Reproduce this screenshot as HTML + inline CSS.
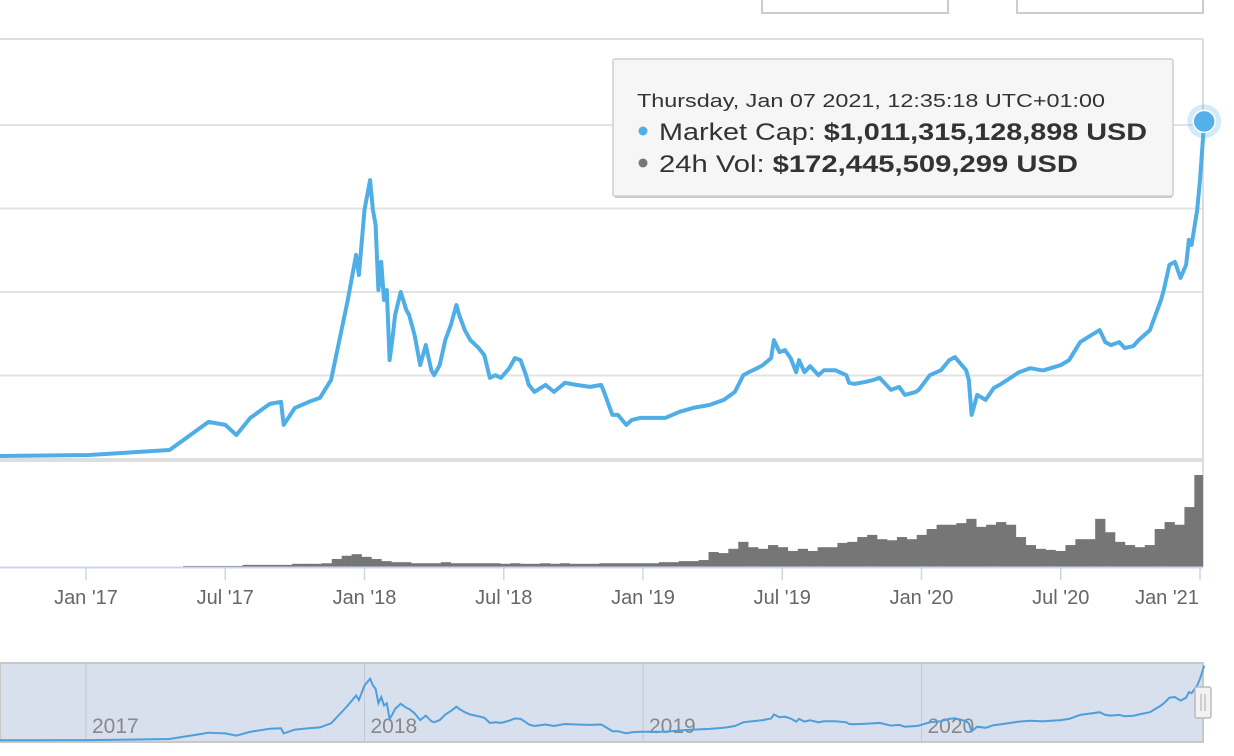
<!DOCTYPE html>
<html><head><meta charset="utf-8"><style>
html,body{margin:0;padding:0;background:#fff;width:1234px;height:756px;overflow:hidden}
svg{display:block;font-family:"Liberation Sans",sans-serif}
</style></head><body>
<svg id="chart" width="1234" height="756" viewBox="0 0 1234 756" xmlns="http://www.w3.org/2000/svg">
<defs><clipPath id="plotClip"><rect x="0" y="0" width="1203" height="756"/></clipPath></defs>
<g id="topbtns">
<rect x="762" y="-6" width="186" height="19" fill="#fff" stroke="#ccc" stroke-width="2"/>
<rect x="1017" y="-6" width="186" height="19" fill="#fff" stroke="#ccc" stroke-width="2"/>
</g>
<g id="grid"></g>
<g id="vol" clip-path="url(#plotClip)"></g>
<g id="xaxis"></g>
<g id="nav"></g>
<path id="mainLine" fill="none" stroke="#4faee6" stroke-width="4" stroke-linejoin="round"/>
<g id="marker"></g>
<g>
<rect x="613" y="59" width="560" height="137" fill="#f6f6f6" stroke="#cfcfcf" stroke-width="1.5" rx="2"/>
<line x1="615" y1="197" x2="1172" y2="197" stroke="#ccc" stroke-width="2"/>
<text x="637" y="107" font-size="18" fill="#333" textLength="468" lengthAdjust="spacingAndGlyphs">Thursday, Jan 07 2021, 12:35:18 UTC+01:00</text>
<circle cx="643" cy="131" r="4.5" fill="#4faee6"/>
<text x="659" y="140" font-size="24" fill="#333" textLength="488" lengthAdjust="spacingAndGlyphs">Market Cap: <tspan font-weight="bold">$1,011,315,128,898 USD</tspan></text>
<circle cx="643" cy="163" r="4.5" fill="#777"/>
<text x="659" y="172" font-size="24" fill="#333" textLength="419" lengthAdjust="spacingAndGlyphs">24h Vol: <tspan font-weight="bold">$172,445,509,299 USD</tspan></text>
</g>
</svg>
<script>
const capDates=[2016.69,2017.01,2017.30,2017.35,2017.41,2017.44,2017.50,2017.54,2017.59,2017.66,2017.70,2017.71,2017.75,2017.80,2017.84,2017.88,2017.91,2017.94,2017.97,2017.98,2018.00,2018.02,2018.03,2018.04,2018.05,2018.06,2018.07,2018.08,2018.09,2018.10,2018.11,2018.13,2018.15,2018.16,2018.18,2018.20,2018.22,2018.24,2018.25,2018.27,2018.29,2018.31,2018.33,2018.34,2018.36,2018.38,2018.41,2018.43,2018.45,2018.47,2018.49,2018.52,2018.54,2018.56,2018.58,2018.59,2018.61,2018.65,2018.68,2018.72,2018.76,2018.81,2018.85,2018.86,2018.89,2018.91,2018.94,2018.96,2018.99,2019.04,2019.08,2019.13,2019.18,2019.24,2019.29,2019.33,2019.36,2019.38,2019.41,2019.43,2019.46,2019.47,2019.49,2019.51,2019.53,2019.55,2019.56,2019.58,2019.60,2019.63,2019.65,2019.69,2019.73,2019.74,2019.76,2019.80,2019.83,2019.85,2019.89,2019.92,2019.94,2019.98,2019.99,2020.03,2020.07,2020.10,2020.12,2020.16,2020.17,2020.18,2020.20,2020.23,2020.26,2020.28,2020.32,2020.35,2020.39,2020.43,2020.44,2020.50,2020.53,2020.57,2020.61,2020.64,2020.66,2020.68,2020.71,2020.73,2020.76,2020.78,2020.82,2020.86,2020.87,2020.89,2020.91,2020.93,2020.95,2020.96,2020.97,2020.99,2021.00,2021.015];
const capValues=[9,12,27,57,93,111,102,72,123,165,171,102,153,171,183,237,356,476,611,551,746,835,746,701,506,590,476,506,296,356,431,500,446,431,371,281,341,266,251,281,356,401,461,431,386,356,332,311,243,251,243,272,302,296,251,222,201,222,201,228,222,216,222,201,132,132,102,117,123,123,123,141,153,162,177,201,251,260,272,281,302,356,320,326,302,260,296,260,278,251,266,266,251,228,225,231,237,243,207,216,192,201,207,251,266,296,305,266,237,132,192,177,213,222,243,260,272,266,266,281,296,350,371,386,350,341,350,332,338,356,386,476,506,581,590,542,581,656,641,746,835,1011];
const volStart=2016.69;
const volStep=0.0356;
const volValues=[0,0,0,0,0,0,0,0,0,0,0,0,0,0,0,0,0,0,0,2,2,2,2,2,2,4,4,4,4,4,6,6,6,7,15,21,24,19,15,11,9,9,7,7,7,9,7,7,7,7,7,6,7,6,6,7,6,7,6,6,6,7,7,7,7,7,7,9,9,11,11,13,28,26,34,47,37,34,41,37,30,34,30,37,37,45,47,56,60,52,50,56,52,60,71,79,79,82,90,75,79,84,79,56,41,34,32,30,41,52,52,90,65,47,41,37,41,71,84,79,112,172];
const xTickDates=[2017,2017.5,2018,2018.5,2019,2019.5,2020,2020.5,2021];
const xTickLabels=["Jan '17","Jul '17","Jan '18","Jul '18","Jan '19","Jul '19","Jan '20","Jul '20","Jan '21"];
const navYears=[2017,2018,2019,2020];
const navLabels=["2017","2018","2019","2020"];
const gridValues=[250,500,750,1000];

const NS="http://www.w3.org/2000/svg";
const X=d=>86+(d-2017)*278.5;
const Y=v=>459-v/250*83.5;
const VY=v=>567-v*0.535;
const NY=v=>741-v*0.0745;
function mk(tag,attrs,parent){const e=document.createElementNS(NS,tag);for(const k in attrs)e.setAttribute(k,attrs[k]);parent.appendChild(e);return e;}

const grid=document.getElementById('grid');
let e=mk('line',{x1:0,y1:39,x2:1203,y2:39,stroke:'#ddd','stroke-width':2},grid);


gridValues.forEach(v=>{const g=mk('line',{x1:0,y1:Y(v),x2:1203,y2:Y(v),stroke:'#e3e3e3','stroke-width':2},grid);

});
e=mk('line',{x1:0,y1:460,x2:1203,y2:460,stroke:'#dedede','stroke-width':4},grid);


e=mk('line',{x1:1203,y1:39,x2:1203,y2:567,stroke:'#ddd','stroke-width':2},grid);



const vol=document.getElementById('vol');
volValues.forEach((v,i)=>{if(v<=0)return;const d=volStart+i*volStep;const x=X(d);
const r=mk('rect',{x:x-5,y:VY(v),width:10.2,height:567-VY(v),fill:'#767676'},vol);

});

const xa=document.getElementById('xaxis');
e=mk('line',{x1:0,y1:567.5,x2:1203,y2:567.5,stroke:'#ccd6eb','stroke-width':2},xa);


xTickDates.forEach((d,i)=>{const x=X(d);
const t=mk('line',{x1:x,y1:567,x2:x,y2:580,stroke:'#ccd6eb','stroke-width':1.5},xa);


const lx=i===xTickDates.length-1?x-33:x;
const l=mk('text',{x:lx,y:604,'font-size':20,fill:'#666','text-anchor':'middle'},xa);
l.textContent=xTickLabels[i];

});

const nav=document.getElementById('nav');
e=mk('rect',{x:0,y:663,width:1203,height:79,fill:'#d8e0ee',stroke:'#c8c8c8','stroke-width':2},nav);


navYears.forEach((d,i)=>{const x=X(d);
const l=mk('line',{x1:x,y1:664,x2:x,y2:741,stroke:'#c2c8d4','stroke-width':1},nav);


const t=mk('text',{x:x+6,y:733,'font-size':21,fill:'#888'},nav);
t.textContent=navLabels[i];

});
let np='';capDates.forEach((d,i)=>{np+=(i?'L':'M')+X(d).toFixed(1)+','+NY(capValues[i]).toFixed(1);});
e=mk('path',{d:np,fill:'none',stroke:'#4d9fdc','stroke-width':2},nav);


e=mk('rect',{x:1195,y:687,width:16,height:31,fill:'#f2f2f2',stroke:'#bbb','stroke-width':1.5,rx:2},nav);


mk('line',{x1:1201,y1:694,x2:1201,y2:711,stroke:'#aaa'},nav);
mk('line',{x1:1205,y1:694,x2:1205,y2:711,stroke:'#aaa'},nav);

let p='';capDates.forEach((d,i)=>{p+=(i?'L':'M')+X(d).toFixed(1)+','+Y(capValues[i]).toFixed(1);});
document.getElementById('mainLine').setAttribute('d',p);

const mkr=document.getElementById('marker');
const lx=X(capDates[capDates.length-1]),ly=Y(capValues[capValues.length-1]);
e=mk('circle',{cx:lx,cy:ly,r:17,fill:'rgba(79,174,230,0.25)'},mkr);


e=mk('circle',{cx:lx,cy:ly,r:11,fill:'#53b0e8',stroke:'#fff','stroke-width':1.5},mkr);


</script>
</body></html>
